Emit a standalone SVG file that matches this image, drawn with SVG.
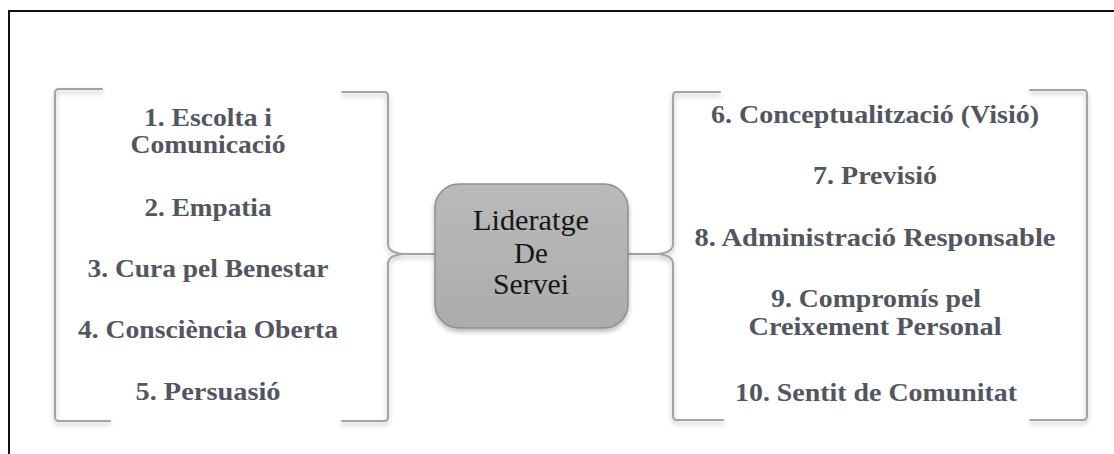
<svg xmlns="http://www.w3.org/2000/svg" width="1114" height="454" viewBox="0 0 1114 454">
  <defs>
    <filter id="soft-shadow" x="-20%" y="-20%" width="140%" height="140%">
      <feGaussianBlur in="SourceAlpha" stdDeviation="2.4"/>
      <feOffset dx="0" dy="3" result="blur"/>
      <feComponentTransfer><feFuncA type="linear" slope="0.28"/></feComponentTransfer>
      <feMerge><feMergeNode/><feMergeNode in="SourceGraphic"/></feMerge>
    </filter>
    <linearGradient id="hub-fill" x1="0" y1="0" x2="0" y2="1">
      <stop offset="0" stop-color="#bababa"/>
      <stop offset="1" stop-color="#acacac"/>
    </linearGradient>
    <style>
      .frame { fill: none; stroke: #111; stroke-width: 2; }
      .bracket { fill: none; stroke: #a4a4a4; stroke-width: 2; stroke-linecap: round; stroke-linejoin: round; }
      .hub { fill: url(#hub-fill); stroke: #8e8e8e; stroke-width: 1.5; }
      .hub-text { font-family: "Liberation Serif", "Times New Roman", serif; font-size: 29px; fill: #151515; text-anchor: middle; }
      .item { font-family: "Liberation Serif", "Times New Roman", serif; font-size: 25px; font-weight: bold; fill: #51565f; text-anchor: middle; }
    </style>
  </defs>

  <rect width="1114" height="454" fill="#ffffff"/>

  <!-- outer frame, open past the right and bottom edges -->
  <path class="frame" d="M 9 460 V 11 H 1120"/>

  <!-- brackets and braces linking the two lists to the hub -->
  <g id="connectors" filter="url(#soft-shadow)">
    <path class="bracket" d="M 102 89 H 59 Q 55 89 55 93 V 417 Q 55 421 59 421 H 110"/>
    <path class="bracket" d="M 342 92 H 384 Q 388 92 388 96 V 244 Q 388 253 404 254 H 435 M 404 254 Q 388 255 388 264 V 417 Q 388 421 384 421 H 342"/>
    <path class="bracket" d="M 720 92 H 677 Q 673 92 673 96 V 244 Q 673 253 657 254 H 628 M 657 254 Q 673 255 673 264 V 416 Q 673 420 677 420 H 723"/>
    <path class="bracket" d="M 1030 90 H 1083 Q 1087 90 1087 94 V 416 Q 1087 420 1083 420 H 1030"/>
  </g>

  <!-- central node -->
  <g id="hub">
    <rect class="hub" x="435" y="184" width="193" height="144" rx="24" ry="24" filter="url(#soft-shadow)"/>
    <text class="hub-text" x="531" y="230" textLength="116" lengthAdjust="spacingAndGlyphs">Lideratge</text>
    <text class="hub-text" x="531" y="263">De</text>
    <text class="hub-text" x="531" y="294" textLength="76" lengthAdjust="spacingAndGlyphs">Servei</text>
  </g>

  <!-- left list -->
  <g id="item-1"><text class="item" x="208" y="126" textLength="128" lengthAdjust="spacingAndGlyphs">1. Escolta i</text>
    <text class="item" x="208" y="153" textLength="155" lengthAdjust="spacingAndGlyphs">Comunicació</text></g>
  <g id="item-2"><text class="item" x="208" y="216" textLength="127" lengthAdjust="spacingAndGlyphs">2. Empatia</text></g>
  <g id="item-3"><text class="item" x="208" y="277" textLength="241" lengthAdjust="spacingAndGlyphs">3. Cura pel Benestar</text></g>
  <g id="item-4"><text class="item" x="208" y="338" textLength="260" lengthAdjust="spacingAndGlyphs">4. Consciència Oberta</text></g>
  <g id="item-5"><text class="item" x="208" y="400" textLength="145" lengthAdjust="spacingAndGlyphs">5. Persuasió</text></g>

  <!-- right list -->
  <g id="item-6"><text class="item" x="875" y="123" textLength="328" lengthAdjust="spacingAndGlyphs">6. Conceptualització (Visió)</text></g>
  <g id="item-7"><text class="item" x="875" y="184" textLength="124" lengthAdjust="spacingAndGlyphs">7. Previsió</text></g>
  <g id="item-8"><text class="item" x="875" y="246" textLength="361" lengthAdjust="spacingAndGlyphs">8. Administració Responsable</text></g>
  <g id="item-9"><text class="item" x="876" y="307" textLength="210" lengthAdjust="spacingAndGlyphs">9. Compromís pel</text>
    <text class="item" x="875" y="335" textLength="253" lengthAdjust="spacingAndGlyphs">Creixement Personal</text></g>
  <g id="item-10"><text class="item" x="876" y="401" textLength="282" lengthAdjust="spacingAndGlyphs">10. Sentit de Comunitat</text></g>
</svg>
